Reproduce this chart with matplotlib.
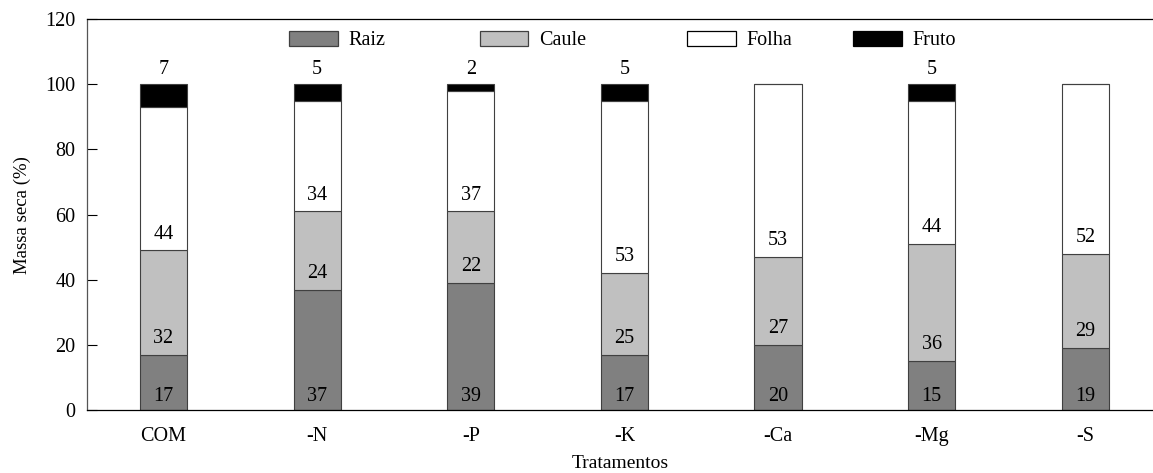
import matplotlib
matplotlib.use("Agg")
import matplotlib.pyplot as plt
import numpy as np
from matplotlib.patches import Patch

plt.rcParams['font.family'] = ['Liberation Serif', 'DejaVu Serif']

tratamentos = ["COM", "-N", "-P", "-K", "-Ca", "-Mg", "-S"]
raiz = [17, 37, 39, 17, 20, 15, 19]
caule = [32, 24, 22, 25, 27, 36, 29]
folha = [44, 34, 37, 53, 53, 44, 52]
fruto = [7, 5, 2, 5, 0, 5, 0]

partes = ["Raiz", "Caule", "Folha", "Fruto"]
cores = ["#808080", "#c0c0c0", "#ffffff", "#000000"]
series = [raiz, caule, folha, fruto]

fig = plt.figure(figsize=(11.53, 4.73), dpi=100)
ax = fig.add_axes([0.0752, 0.1332, 0.9248, 0.8262])

x = np.arange(len(tratamentos))
fs = 14.5
base = np.zeros(len(tratamentos))
for nome, vals, cor in zip(partes, series, cores):
    vals = np.array(vals, dtype=float)
    ax.bar(x, vals, 0.308, bottom=base, color=cor, edgecolor="#404040",
           linewidth=0.8, zorder=2)
    for xi, b, v in zip(x, base, vals):
        if v <= 0:
            continue
        if nome == "Fruto":
            ax.text(xi, b + v + 4.5, str(int(v)), ha="center", va="center", fontsize=fs)
        elif nome == "Raiz":
            ax.text(xi, b + 4.2, str(int(v)), ha="center", va="center", fontsize=fs)
        else:
            ax.text(xi, b + 5, str(int(v)), ha="center", va="center", fontsize=fs)
    base = base + vals

ax.set_xlim(-0.5, 6.44)
ax.set_ylim(0, 120)
ax.set_yticks(range(0, 121, 20))
ax.set_xticks(x)
ax.set_xticklabels(tratamentos)
ax.tick_params(axis="y", direction="in", length=7, width=0.8, pad=8, labelsize=fs)
ax.tick_params(axis="x", length=0, pad=12, labelsize=fs)
ax.spines["right"].set_visible(False)
for s in ["left", "top", "bottom"]:
    ax.spines[s].set_linewidth(0.9)
ax.spines["left"].set_color("#555555")

ax.set_ylabel("Massa seca (%)", fontsize=13.5, labelpad=10)
ax.set_xlabel("Tratamentos", fontsize=14, labelpad=6.5)

# legend entries placed individually along the top
leg_x = [289.3, 479.7, 687.3, 853.3]
leg_edges = ["#404040", "#404040", "#000000", "#000000"]
for nome, cor, ec, px in zip(partes, cores, leg_edges, leg_x):
    h = Patch(facecolor=cor, edgecolor=ec, linewidth=0.9)
    leg = fig.legend([h], [nome], loc="center left",
                     bbox_to_anchor=(px / 1153, 1 - 40.5 / 473),
                     frameon=False, fontsize=fs, borderpad=0, borderaxespad=0,
                     handlelength=2.4, handleheight=0.75, handletextpad=0.55)

fig.savefig("out.png", dpi=100)
